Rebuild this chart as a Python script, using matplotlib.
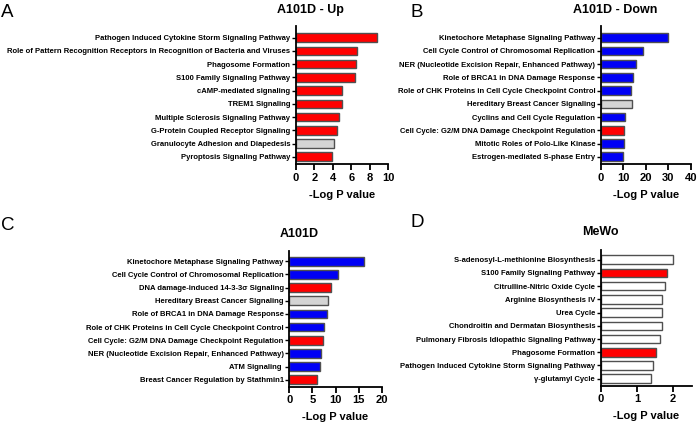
import numpy as np
import matplotlib.pyplot as plt

plt.rcParams['font.family'] = ['Liberation Sans', 'DejaVu Sans']

RED = '#ff0000'
BLUE = '#0000f5'
GRAY = '#d4d4d4'
WHITE = '#ffffff'

# Panel A: A101D - Up
a_labels = ['Pathogen Induced Cytokine Storm Signaling Pathway',
            'Role of Pattern Recognition Receptors in Recognition of Bacteria and Viruses',
            'Phagosome Formation',
            'S100 Family Signaling Pathway',
            'cAMP-mediated signaling',
            'TREM1 Signaling',
            'Multiple Sclerosis Signaling Pathway',
            'G-Protein Coupled Receptor Signaling',
            'Granulocyte Adhesion and Diapedesis',
            'Pyroptosis Signaling Pathway']
a_values = [8.77, 6.6, 6.55, 6.4, 5.0, 4.95, 4.67, 4.42, 4.17, 3.95]
a_colors = [RED] * 8 + [GRAY, RED]

# Panel B: A101D - Down
b_labels = ['Kinetochore Metaphase Signaling Pathway',
            'Cell Cycle Control of Chromosomal Replication',
            'NER (Nucleotide Excision Repair, Enhanced Pathway)',
            'Role of BRCA1 in DNA Damage Response',
            'Role of CHK Proteins in Cell Cycle Checkpoint Control',
            'Hereditary Breast Cancer Signaling',
            'Cyclins and Cell Cycle Regulation',
            'Cell Cycle: G2/M DNA Damage Checkpoint Regulation',
            'Mitotic Roles of Polo-Like Kinase',
            'Estrogen-mediated S-phase Entry']
b_values = [30.0, 18.8, 15.5, 14.5, 13.6, 13.7, 11.0, 10.4, 10.2, 10.0]
b_colors = [BLUE] * 5 + [GRAY, BLUE, RED, BLUE, BLUE]

# Panel C: A101D
c_labels = ['Kinetochore Metaphase Signaling Pathway',
            'Cell Cycle Control of Chromosomal Replication',
            'DNA damage-induced 14-3-3σ Signaling',
            'Hereditary Breast Cancer Signaling',
            'Role of BRCA1 in DNA Damage Response',
            'Role of CHK Proteins in Cell Cycle Checkpoint Control',
            'Cell Cycle: G2/M DNA Damage Checkpoint Regulation',
            'NER (Nucleotide Excision Repair, Enhanced Pathway)',
            'ATM Signaling ',
            'Breast Cancer Regulation by Stathmin1']
c_values = [16.2, 10.5, 8.95, 8.3, 8.2, 7.6, 7.4, 6.8, 6.6, 5.9]
c_colors = [BLUE, BLUE, RED, GRAY, BLUE, BLUE, RED, BLUE, BLUE, RED]

# Panel D: MeWo
d_labels = ['S-adenosyl-L-methionine Biosynthesis',
            'S100 Family Signaling Pathway',
            'Citrulline-Nitric Oxide Cycle',
            'Arginine Biosynthesis IV',
            'Urea Cycle',
            'Chondroitin and Dermatan Biosynthesis',
            'Pulmonary Fibrosis Idiopathic Signaling Pathway',
            'Phagosome Formation',
            'Pathogen Induced Cytokine Storm Signaling Pathway',
            'γ-glutamyl Cycle']
d_values = [2.0, 1.82, 1.78, 1.70, 1.70, 1.70, 1.63, 1.54, 1.45, 1.38]
d_colors = [WHITE, RED, WHITE, WHITE, WHITE, WHITE, WHITE, RED, WHITE, WHITE]

W, H = 699, 426
fig = plt.figure(figsize=(W / 100, H / 100), dpi=100)


def panel(px_left, px_right, px_top, px_bot, labels, values, colors,
          xmax, ticks, ylim):
    ax = fig.add_axes([px_left / W, 1 - px_bot / H,
                       (px_right - px_left) / W, (px_bot - px_top) / H])
    y = np.arange(len(labels))
    ax.barh(y, values, height=0.65, color=colors, edgecolor='#505050',
            linewidth=1.0)
    ax.set_xlim(0, xmax)
    ax.set_ylim(*ylim)
    ax.set_yticks(y)
    ax.set_yticklabels(labels, fontsize=5.5, fontweight='bold')
    ax.set_xticks(ticks)
    ax.set_xticklabels([str(t) for t in ticks], fontsize=8, fontweight='bold')
    ax.spines['top'].set_visible(False)
    ax.spines['right'].set_visible(False)
    for s in ('left', 'bottom'):
        ax.spines[s].set_linewidth(1.3)
    ax.tick_params(axis='y', length=3, width=1, pad=1)
    ax.tick_params(axis='x', length=4, width=1.3, pad=2)
    ax.set_xlabel('-Log P value', fontsize=8, fontweight='bold', labelpad=5)
    return ax


panel(296, 388, 26, 164.3, a_labels, a_values, a_colors, 10,
      [0, 2, 4, 6, 8, 10], (9.57, -0.88))
panel(600.7, 690.7, 26, 164.3, b_labels, b_values, b_colors, 40,
      [0, 10, 20, 30, 40], (9.57, -0.88))
panel(289.3, 381.7, 251, 387, c_labels, c_values, c_colors, 20,
      [0, 5, 10, 15, 20], (9.55, -0.78))
panel(600.7, 692, 250, 386, d_labels, d_values, d_colors, 2.52,
      [0, 1, 2], (9.55, -0.73))

# titles
fig.text(310 / W, 1 - 10 / H, 'A101D - Up', ha='center', va='center',
         fontsize=9, fontweight='bold')
fig.text(615 / W, 1 - 10 / H, 'A101D - Down', ha='center', va='center',
         fontsize=9, fontweight='bold')
fig.text(299 / W, 1 - 234 / H, 'A101D', ha='center', va='center',
         fontsize=9, fontweight='bold')
fig.text(600 / W, 1 - 232 / H, 'MeWo', ha='center', va='center',
         fontsize=9, fontweight='bold')

# panel letters
for letter, x, yt in [('A', 1, 4), ('B', 411, 4), ('C', 1, 217), ('D', 411, 214)]:
    fig.text(x / W, 1 - yt / H, letter, ha='left', va='top', fontsize=13.5)

fig.savefig('out.png', dpi=100)
